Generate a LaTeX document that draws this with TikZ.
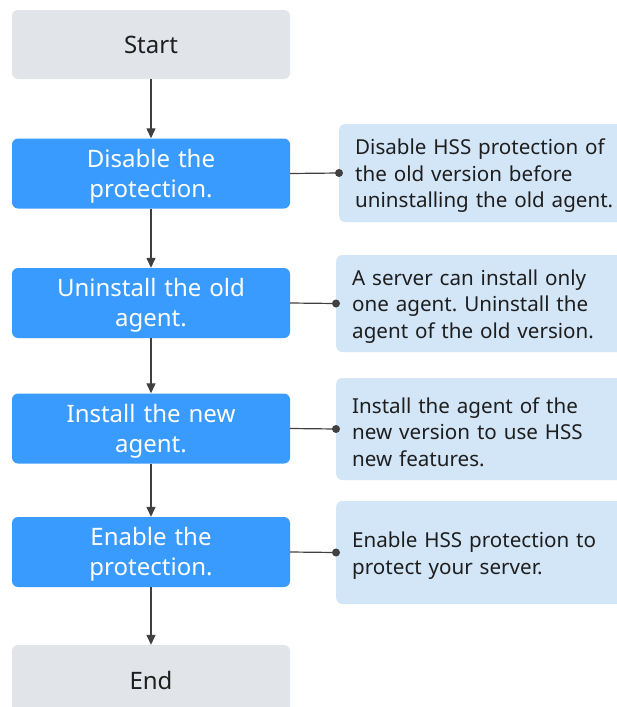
\documentclass[tikz,border=0pt]{standalone}
\usepackage{fontspec}
\setmainfont{Noto Sans}
\frenchspacing
\usetikzlibrary{arrows.meta,positioning}

\definecolor{stepblue}{HTML}{3A9BFF}
\definecolor{endgray}{HTML}{E1E4E8}
\definecolor{noteblue}{HTML}{D3E6F8}
\definecolor{linegray}{HTML}{404040}
\definecolor{textdark}{HTML}{1E1E1E}

\tikzset{
    terminal/.style={rectangle, rounded corners=6, fill=endgray, minimum width=278, minimum height=69,
        inner sep=0, font=\fontsize{24}{30}\selectfont, text=textdark},
    stepbox/.style={rectangle, rounded corners=6, fill=stepblue, minimum width=278, minimum height=70,
        inner sep=0, text width=270, align=center, font=\fontsize{24}{30}\selectfont, text=white,
        execute at begin node={\rule{0pt}{23pt}}},
    notebox/.style={rectangle, rounded corners=6, fill=noteblue, anchor=west, minimum height=100,
        inner xsep=16, text width=290, align=left, font=\fontsize{20.6}{26.5}\selectfont, text=textdark,
        execute at begin node={\rule{0pt}{21.5pt}}},
    flow/.style={draw=linegray, line width=1.2, -{Triangle[length=10,width=9]}},
    link/.style={draw=linegray, line width=1.2},
}

\begin{document}
\begin{tikzpicture}[x=1pt, y=-1pt]

    \clip (0,0) rectangle (617,707);

    % --- Start / End ---
    \node[terminal] (start) at (151,44.5) {Start};
    \node[terminal, minimum height=70] (end) at (151,680) {End};

    % --- Steps ---
    \node[stepbox] (disable) at (151,173.5) {Disable the\\protection.};
    \node[stepbox] (uninstall) at (151,303) {Uninstall the old\\agent.};
    \node[stepbox] (install) at (151,428.5) {Install the new\\agent.};
    \node[stepbox] (enable) at (151,552) {Enable the\\protection.};

    % --- Notes ---
    \node[notebox, minimum height=98] (n1) at (339,173) {Disable HSS protection of\\the old version before\\uninstalling the old agent.};
    \node[notebox, minimum height=97] (n2) at (336,303.5) {A server can install only\\one agent. Uninstall the\\agent of the old version.};
    \node[notebox, minimum height=102] (n3) at (336,429) {Install the agent of the\\new version to use HSS\\new features.};
    \node[notebox, minimum height=103] (n4) at (336,552.5) {Enable HSS protection to\\protect your server.};

    % Folyamat nyilak
    \foreach \a/\b in {start/disable, disable/uninstall, uninstall/install, install/enable, enable/end}
        \draw[flow] (\a) -- (\b);

    % Megjegyzes vonalak
    \foreach \s/\n in {disable/n1, uninstall/n2, install/n3, enable/n4} {
        \draw[link] (\s.east) -- (\n.west);
        \fill[linegray] (\n.west) circle (4);
    }

\end{tikzpicture}
\end{document}
